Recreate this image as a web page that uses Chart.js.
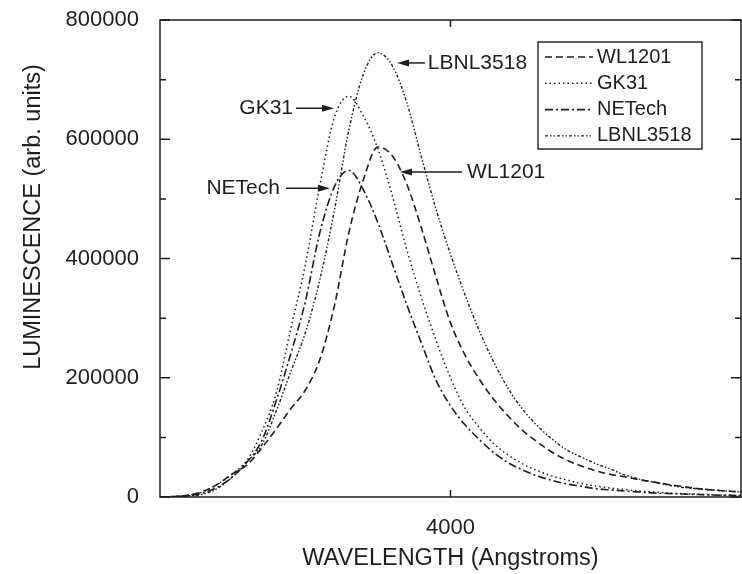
<!DOCTYPE html>
<html>
<head>
<meta charset="utf-8">
<script src="https://cdn.jsdelivr.net/npm/chart.js@4.4.1/dist/chart.umd.min.js"></script>
<style>
  html, body { margin: 0; padding: 0; background: #fff; }
</style>
</head>
<body>
<canvas id="chart" width="742" height="574"></canvas>
<script>
// wavelength grid (Angstroms)
const wavelengths = [
  3000, 3050, 3100, 3150, 3200, 3250, 3300, 3350, 3400, 3450,
  3500, 3550, 3600, 3650, 3700, 3750, 3800, 3850, 3900, 3950,
  4000, 4050, 4100, 4150, 4200, 4250, 4300, 4350, 4400, 4450,
  4500, 4550, 4600, 4650, 4700, 4750, 4800, 4850, 4900, 4950, 5000
];

// luminescence values (arb. units)
const wl1201 = [
  0, 800, 3400, 10000, 22000, 39000, 54000, 82000, 114000, 148000,
  179000, 230000, 320000, 443000, 532000, 587000, 572000, 524000, 451000, 369000,
  292000, 238000, 197000, 163000, 135000, 111000, 92000, 75000, 62000, 52000,
  44000, 38000, 34000, 29000, 25000, 21000, 17600, 14000, 11700, 10000, 8400
];
const gk31 = [
  0, 1000, 3000, 9000, 22000, 39000, 62000, 109000, 174000, 282000,
  389000, 522000, 636000, 672000, 639000, 584000, 505000, 414000, 334000, 263000,
  200000, 149000, 116000, 89000, 70000, 55000, 44000, 35000, 28500, 22600,
  18400, 15100, 12600, 10000, 8400, 6700, 5500, 4700, 3900, 3000, 2500
];
const netech = [
  0, 1000, 2500, 7000, 17000, 34000, 59000, 94000, 161000, 240000,
  327000, 443000, 520000, 548000, 515000, 460000, 391000, 322000, 258000, 196000,
  153000, 121000, 96000, 74000, 57000, 45000, 35000, 28000, 22000, 18000,
  14000, 12000, 10000, 8400, 6700, 5900, 5000, 4200, 3400, 2800, 2500
];
const lbnl3518 = [
  0, 500, 2000, 5000, 15000, 34000, 59000, 87000, 144000, 210000,
  275000, 364000, 480000, 615000, 709000, 745000, 723000, 661000, 570000, 483000,
  407000, 339000, 278000, 225000, 181000, 146000, 119000, 97000, 79000, 67000,
  56000, 47000, 37000, 30000, 25000, 20000, 16000, 14000, 12000, 10000, 8400
];

const seriesNames = ["WL1201", "GK31", "NETech", "LBNL3518"];
const xTicks = [4000];
const yTicks = [0, 200000, 400000, 600000, 800000];

// arrow labels: text anchor (wavelength, value) and arrow from -> tip (wavelength)
const callouts = [
  { text: "LBNL3518", at: 3922, value: 728000, from: 3912, tip: 3816 },
  { text: "GK31", at: 3458, value: 652000, from: 3468, tip: 3599 },
  { text: "NETech", at: 3413, value: 518000, from: 3434, tip: 3585 },
  { text: "WL1201", at: 4057, value: 545000, from: 4040, tip: 3826 }
];

const ink = "#1e1e1e";
const dashStyles = [[7, 4], [1.5, 3], [8, 3, 2, 3], [3, 2, 1.5, 2, 1.5, 2]];
const widths = [1.6, 1.5, 1.6, 1.4];
const fontFamily = "'Liberation Sans', Arial, sans-serif";

Chart.defaults.font.family = fontFamily;
Chart.defaults.color = ink;

function points(values) {
  return wavelengths.map((w, i) => ({ x: w, y: values[i] }));
}

const allSeries = [wl1201, gk31, netech, lbnl3518];

// frame, inward ticks, legend box, callouts, y title
const decorations = {
  id: "decorations",
  afterDatasetsDraw(chart) {
    const { ctx, chartArea: a, scales } = chart;
    const x = scales.x, y = scales.y;
    ctx.save();
    ctx.strokeStyle = ink;
    ctx.fillStyle = ink;
    ctx.lineWidth = 1.5;
    ctx.setLineDash([]);
    ctx.strokeRect(a.left, a.top, a.right - a.left, a.bottom - a.top);

    // y ticks (major + minor halfway) on both sides, pointing in
    const yVals = y.ticks.map((t) => t.value);
    const marks = [];
    yVals.forEach((v, i) => {
      marks.push([v, 10]);
      if (i < yVals.length - 1) marks.push([(v + yVals[i + 1]) / 2, 6]);
    });
    ctx.beginPath();
    marks.forEach(([v, len]) => {
      const py = y.getPixelForValue(v);
      ctx.moveTo(a.left, py);
      ctx.lineTo(a.left + len, py);
      ctx.moveTo(a.right, py);
      ctx.lineTo(a.right - len, py);
    });
    x.ticks.forEach((t) => {
      const px = x.getPixelForValue(t.value);
      ctx.moveTo(px, a.bottom);
      ctx.lineTo(px, a.bottom - 7);
      ctx.moveTo(px, a.top);
      ctx.lineTo(px, a.top + 7);
    });
    ctx.stroke();

    // callouts with arrows
    ctx.font = "21px " + fontFamily;
    ctx.textBaseline = "middle";
    callouts.forEach((c) => {
      const py = y.getPixelForValue(c.value);
      const tx = x.getPixelForValue(c.at);
      const fx = x.getPixelForValue(c.from);
      const tp = x.getPixelForValue(c.tip);
      ctx.textAlign = c.tip > c.at ? "right" : "left";
      ctx.fillText(c.text, tx, py);
      const dir = tp > fx ? 1 : -1;
      ctx.beginPath();
      ctx.moveTo(fx, py);
      ctx.lineTo(tp - dir * 8, py);
      ctx.stroke();
      ctx.beginPath();
      ctx.moveTo(tp, py);
      ctx.lineTo(tp - dir * 12, py - 3.5);
      ctx.lineTo(tp - dir * 12, py + 3.5);
      ctx.closePath();
      ctx.fill();
    });

    // legend box in upper right
    const bx = a.right - 203, by = a.top + 22, bw = 164, bh = 107;
    ctx.lineWidth = 1.4;
    ctx.strokeRect(bx, by, bw, bh);
    ctx.font = "20px " + fontFamily;
    ctx.textAlign = "left";
    chart.data.datasets.forEach((ds, i) => {
      const ry = by + 15 + i * 26.3;
      ctx.beginPath();
      ctx.lineWidth = ds.borderWidth;
      ctx.setLineDash(ds.borderDash);
      ctx.moveTo(bx + 7, ry);
      ctx.lineTo(bx + 55, ry);
      ctx.stroke();
      ctx.setLineDash([]);
      ctx.fillText(ds.label, bx + 59, ry);
    });

    // y axis title
    ctx.save();
    ctx.translate(34, 217);
    ctx.rotate(-Math.PI / 2);
    ctx.textAlign = "center";
    ctx.font = "23.5px " + fontFamily;
    ctx.fillText("LUMINESCENCE (arb. units)", 0, 0);
    ctx.restore();

    ctx.restore();
  }
};

new Chart(document.getElementById("chart"), {
  type: "line",
  data: {
    datasets: seriesNames.map((name, i) => ({
      label: name,
      data: points(allSeries[i]),
      borderColor: ink,
      borderWidth: widths[i],
      borderDash: dashStyles[i],
      pointRadius: 0,
      fill: false,
      cubicInterpolationMode: "monotone"
    }))
  },
  options: {
    responsive: false,
    animation: false,
    layout: { padding: { top: 20, right: 1, left: 0, bottom: 0 } },
    plugins: { legend: { display: false }, tooltip: { enabled: false } },
    scales: {
      x: {
        type: "linear",
        min: 3000,
        max: 5000,
        afterBuildTicks: (s) => { s.ticks = xTicks.map((v) => ({ value: v })); },
        afterFit: (s) => { s.height = 77; s.paddingLeft = 0; s.paddingRight = 0; },
        grid: { display: false, drawTicks: false },
        border: { display: false },
        ticks: { padding: 18, font: { size: 22 }, callback: (v) => String(v) },
        title: {
          display: true,
          text: "WAVELENGTH (Angstroms)",
          font: { size: 23.5 },
          padding: { top: 0, bottom: 1 }
        }
      },
      y: {
        min: 0,
        max: 800000,
        afterBuildTicks: (s) => { s.ticks = yTicks.map((v) => ({ value: v })); },
        afterFit: (s) => { s.width = 160; s.paddingTop = 0; s.paddingBottom = 0; },
        grid: { display: false, drawTicks: false },
        border: { display: false },
        ticks: { padding: 21, font: { size: 22 }, callback: (v) => String(v) }
      }
    }
  },
  plugins: [decorations]
});
</script>
</body>
</html>
